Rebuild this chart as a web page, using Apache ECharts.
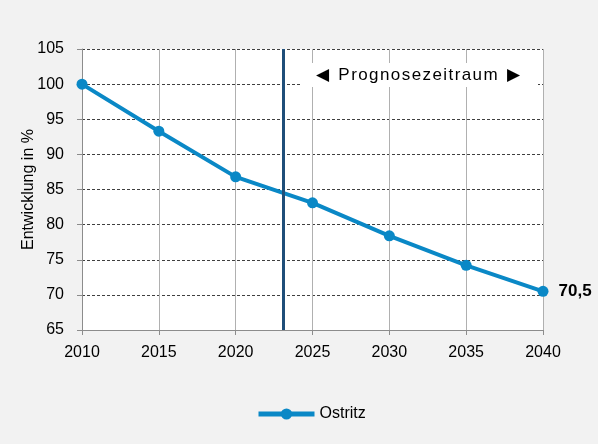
<!DOCTYPE html>
<html>
<head>
<meta charset="utf-8">
<script src="https://cdn.jsdelivr.net/npm/echarts@6/dist/echarts.min.js"></script>
<style>
  html, body { margin: 0; padding: 0; background: #f2f2f2; }
  #chart { width: 598px; height: 444px; }
</style>
</head>
<body>
<div id="chart"></div>
<script>
// Jahre und Entwicklung in %
var years = [2010, 2015, 2020, 2025, 2030, 2035, 2040];
var values = [100, 93.3, 86.8, 83.1, 78.4, 74.2, 70.5];
var seriesName = 'Ostritz';
// Beginn Prognosezeitraum
var prognoseStart = 2023.1;

var myChart = echarts.init(document.getElementById('chart'));

var data = years.map(function (y, i) { return [y, values[i]]; });

var font = 'Liberation Sans, Arial, sans-serif';
// etwas gesperrt wie im Original
var prognoseText = '◀  ' + 'Prognosezeitraum'.split('').join('\u200A') + '  ▶';

var option = {
    backgroundColor: '#f2f2f2',
    animation: false,
    grid: {
        left: 82,
        right: 55,
        top: 49,
        bottom: 114,
        show: true,
        backgroundColor: '#ffffff',
        borderWidth: 0
    },
    xAxis: {
        type: 'value',
        min: 2010,
        max: 2040,
        interval: 5,
        axisLine: { lineStyle: { color: '#8c8c8c', width: 1 } },
        axisTick: { show: true, length: 5, lineStyle: { color: '#8c8c8c' } },
        axisLabel: {
            color: '#000',
            fontSize: 16,
            fontFamily: font,
            margin: 15,
            formatter: function (v) { return String(v); }
        },
        splitLine: { show: true, lineStyle: { color: '#b0b0b0', width: 1 } }
    },
    yAxis: {
        type: 'value',
        min: 65,
        max: 105,
        interval: 5,
        name: 'Entwicklung in %',
        nameLocation: 'middle',
        nameGap: 45,
        nameMoveOverlap: false,
        nameTextStyle: { color: '#000', fontSize: 16, fontFamily: font },
        axisLine: { show: true, lineStyle: { color: '#8c8c8c', width: 1 } },
        axisTick: { show: true, length: 5, lineStyle: { color: '#8c8c8c' } },
        axisLabel: { color: '#000', fontSize: 16, fontFamily: font, margin: 18 },
        splitLine: { show: true, lineStyle: { color: '#404040', width: 1, type: [3, 2] } }
    },
    legend: {
        top: 401,
        left: 251,
        itemWidth: 56,
        itemHeight: 14,
        textStyle: { color: '#000', fontSize: 16, fontFamily: font },
        lineStyle: { width: 5 },
        data: [seriesName]
    },
    graphic: [
        {
            type: 'rect',
            shape: { x: 300, y: 63, width: 238, height: 24 },
            style: { fill: '#ffffff' },
            z: 5
        },
        {
            type: 'text',
            x: 418,
            y: 75,
            z: 6,
            style: {
                text: prognoseText,
                fill: '#000',
                font: '17px Liberation Sans, Arial, sans-serif',
                align: 'center',
                verticalAlign: 'middle'
            }
        }
    ],
    series: [{
        name: seriesName,
        type: 'line',
        data: data,
        color: '#0a88c6',
        lineStyle: { width: 4, color: '#0a88c6' },
        symbol: 'circle',
        symbolSize: 11,
        itemStyle: { color: '#0a88c6' },
        label: {
            show: true,
            position: 'right',
            distance: 10,
            fontSize: 17,
            fontWeight: 'bold',
            fontFamily: font,
            color: '#000',
            formatter: function (p) {
                return p.dataIndex === years.length - 1 ? String(p.value[1]).replace('.', ',') : '';
            }
        },
        markLine: {
            symbol: 'none',
            silent: true,
            label: { show: false },
            lineStyle: { color: '#1f4e79', width: 3, type: 'solid' },
            data: [{ xAxis: prognoseStart }]
        }
    }]
};

myChart.setOption(option);
</script>
</body>
</html>
